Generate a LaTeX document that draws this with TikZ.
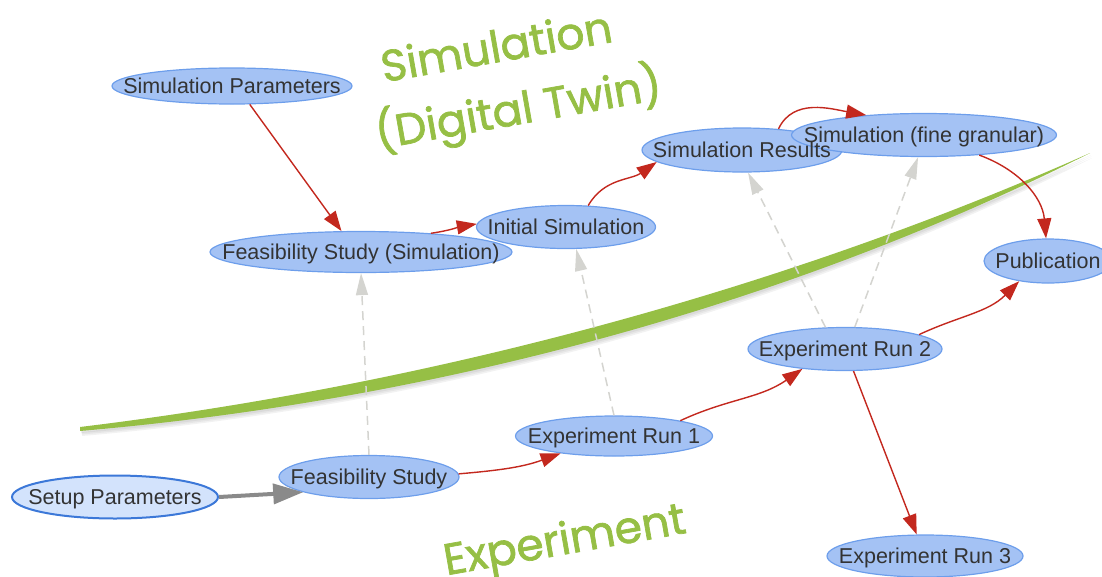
\documentclass[tikz,border=0pt]{standalone}
\usepackage{fontspec}
\setmainfont{Liberation Sans}
\newfontfamily\handfont[FakeBold=1.6]{Poppins}
\usetikzlibrary{shapes.geometric,arrows.meta}
\definecolor{nodefill}{HTML}{A4C2F4}
\definecolor{nodeline}{HTML}{6D9EEB}
\definecolor{setupfill}{HTML}{D3E3FC}
\definecolor{setupline}{HTML}{3C78D8}
\definecolor{flowred}{HTML}{C3281E}
\definecolor{linkgray}{HTML}{D4D4D0}
\definecolor{feedgray}{HTML}{8A8A8A}
\definecolor{leafgreen}{HTML}{96BF45}
\definecolor{labeltext}{HTML}{333333}
% zero-width box so the ellipse size comes only from minimum width/height
\newcommand\fitlabel[1]{\makebox[0pt]{#1}}
\begin{document}
\begin{tikzpicture}[x=1pt,y=-1pt,
  ell/.style={ellipse, draw=nodeline, line width=1.2pt, fill=nodefill,
    inner sep=0pt, text=labeltext, text height=15.4pt, text depth=0pt,
    font=\fontsize{21.5}{24}\selectfont},
  setupnode/.style={ell, draw=setupline, line width=2pt, fill=setupfill},
  plainlabel/.style={inner sep=0pt, text=labeltext, text height=15.4pt, text depth=0pt,
    font=\fontsize{21.5}{24}\selectfont},
  flow/.style={draw=flowred, line width=1.4pt, -{Triangle[length=20pt,width=14pt]}},
  link/.style={draw=linkgray, line width=1.5pt, dash pattern=on 9pt off 6pt,
    -{Triangle[length=22pt,width=12pt]}},
  feed/.style={draw=feedgray, line width=4pt, -{Triangle[length=30pt,width=20pt]}},
  region/.style={text=leafgreen, font=\handfont\fontsize{44}{50}\selectfont,
    inner sep=0pt, anchor=base, rotate=10}
]
\useasboundingbox (0,0) rectangle (1102,576);

% soft shadow under the swoosh
\foreach \dx/\dy in {1/2,1.5/3.5,2/5}
  \fill[black, opacity=0.05, shift={(\dx,\dy)}]
    (80,427) .. controls (450,382) and (800,282) .. (1090,153)
    .. controls (800,299) and (450,399) .. (80,431) -- cycle;
% dividing swoosh between simulation and experiment
\fill[leafgreen]
  (80,427) .. controls (450,382) and (800,282) .. (1090,153)
  .. controls (800,299) and (450,399) .. (80,431) -- cycle;

% region titles
\node[region] (simtitle) at (499,62) {Simulation};
\node[region] (twintitle) at (521,124) {(Digital Twin)};
\node[region] (exptitle) at (567,554) {Experiment};

% simulation side
\node[ell, minimum width=240pt, minimum height=36pt] (sp) at (232,86) {\fitlabel{Simulation Parameters}};
\node[ell, minimum width=302pt, minimum height=41pt] (fss) at (361,252) {\fitlabel{Feasibility Study (Simulation)}};
\node[ell, minimum width=179pt, minimum height=43pt] (init) at (566,227) {\fitlabel{Initial Simulation}};
\node[ell, minimum width=200pt, minimum height=44pt] (res) at (742,150) {};
\node[ell, minimum width=265pt, minimum height=43pt] (fine) at (924,135) {\fitlabel{Simulation (fine granular)}};
\node[plainlabel] (restext) at (res) {\fitlabel{Simulation Results}};
\node[ell, minimum width=128pt, minimum height=44pt] (pub) at (1048,261) {\fitlabel{Publication}};

% experiment side
\node[setupnode, minimum width=206pt, minimum height=43pt] (setup) at (115,497) {\fitlabel{Setup Parameters}};
\node[ell, minimum width=180pt, minimum height=43pt] (fs) at (369,477) {\fitlabel{Feasibility Study}};
\node[ell, minimum width=197pt, minimum height=40pt] (run1) at (614,436) {\fitlabel{Experiment Run 1}};
\node[ell, minimum width=194pt, minimum height=43pt] (run2) at (845,349) {\fitlabel{Experiment Run 2}};
\node[ell, minimum width=196pt, minimum height=42pt] (run3) at (925,556) {\fitlabel{Experiment Run 3}};

% workflow
\draw[feed] (setup.east) -- (fs.193);
\draw[flow] (sp.-46) -- (fss.133);
\draw[flow] (fss.15) to[out=8,in=190] (init.178);
\draw[flow] (init.44) to[out=60,in=215] (res.188);
\draw[flow] (res.30) to[out=65,in=170] (fine.161);
\draw[flow] (fine.-20) to[out=-20,in=95] (pub.95);
\draw[flow] (fs.2) to[out=5,in=200] (run1.198);
\draw[flow] (run1.13) to[out=25,in=215] (run2.205);
\draw[flow] (run2.11) to[out=25,in=225] (pub.215);
\draw[flow] (run2) -- (run3);

% experiment results feeding the simulation
\draw[link] (fs.north) -- (fss.south);
\draw[link] (run1.north) -- (init.-65);
\draw[link] (run2.132) -- (res.-75);
\draw[link] (run2.66) -- (fine.-105);
\end{tikzpicture}
\end{document}
